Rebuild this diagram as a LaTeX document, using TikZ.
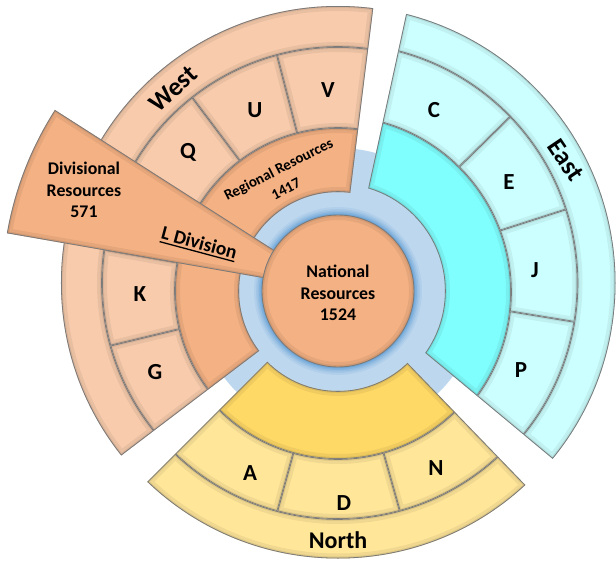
\documentclass[tikz,border=0pt]{standalone}
\usepackage{fontspec}
\setmainfont{Carlito}
\newcommand\thickul[1]{\setbox0\hbox{#1}\rlap{\rule[-3.4pt]{\wd0}{1.3pt}}\box0}
\usetikzlibrary{calc}
\definecolor{orgD}{HTML}{F4B183}
\definecolor{orgL}{HTML}{F8CBAD}
\definecolor{cyD}{HTML}{80FFFF}
\definecolor{cyL}{HTML}{CCFFFF}
\definecolor{yeD}{HTML}{FFD966}
\definecolor{yeL}{HTML}{FFE699}
\definecolor{blueD}{HTML}{BDD7EE}
\definecolor{blueK}{HTML}{5B9BD5}
\definecolor{edgec}{HTML}{7A7A7A}
% #1 colour, #2 point on start edge, #3 start angle, #4 point on end edge, #5 end angle,
% #6 inner centre, #7 inner radius, #8 outer centre, #9 outer radius
\newcommand\piece[9]{%
  \begin{scope}
    \clip (#2) -- ($(#2)+(#3:420)$) arc[start angle=#3,end angle=#5,radius=420]
          -- ($(#4)+(#5:420)$) -- (#4) -- cycle;
    \clip (#6) ++(0:#7) arc[start angle=0,end angle=-360,radius=#7]
          (#8) ++(0:#9) arc[start angle=0,end angle=360,radius=#9];
    \fill[#1] (-400,-400) rectangle (400,400);
    \draw[black,opacity=.06,line width=10] (#2) -- ($(#2)+(#3:420)$) (#4) -- ($(#4)+(#5:420)$)
          (#6) circle[radius=#7] (#8) circle[radius=#9];
    \draw[black,opacity=.07,line width=4] (#2) -- ($(#2)+(#3:420)$) (#4) -- ($(#4)+(#5:420)$)
          (#6) circle[radius=#7] (#8) circle[radius=#9];
    \draw[edgec,line width=1.6] (#2) -- ($(#2)+(#3:420)$) (#4) -- ($(#4)+(#5:420)$)
          (#6) circle[radius=#7] (#8) circle[radius=#9];
  \end{scope}}
\tikzset{
  cell/.style={font=\bfseries\fontsize{23}{27}\selectfont,inner sep=1pt},
  band/.style={font=\bfseries\fontsize{24}{28}\selectfont,inner sep=0pt},
  bandbig/.style={font=\bfseries\fontsize{26}{30}\selectfont,inner sep=0pt},
  info/.style={font=\bfseries\fontsize{17.8}{21.5}\selectfont,align=center,inner sep=0pt},
  reg/.style={font=\bfseries\fontsize{15}{18}\selectfont,inner sep=0pt},
}
\begin{document}
\begin{tikzpicture}[x=1pt,y=1pt]
\useasboundingbox (-338,-269) rectangle (278,291);
\fill[white] (-338,-269) rectangle (278,291);
% blue disk and soft halo round the centre
\fill[blueD] (0,0) circle[radius=143];
\foreach \r/\o in {84/.12,82/.15,80.5/.2,79/.3,77.5/.45}
  \fill[blueK,opacity=\o] (0,0) circle[radius=\r];
% West
\piece{orgD}{0,0}{82.9}{0,0}{217.2}{0,0}{99}{0,0}{163}
\piece{orgL}{0,0}{82.9}{0,0}{104.5}{0,0}{163}{0,8}{236}
\piece{orgL}{0,0}{104.5}{0,0}{127}{0,0}{163}{0,8}{236}
\piece{orgL}{0,0}{127}{0,0}{150}{0,0}{163}{0,8}{236}
\piece{orgL}{0,0}{170}{0,0}{193.5}{0,0}{163}{0,8}{236}
\piece{orgL}{0,0}{193.5}{0,0}{217.2}{0,0}{163}{0,8}{236}
\piece{orgL}{0,0}{82.9}{0,0}{217.2}{0,8}{236}{0,8}{277}
% East
\piece{cyD}{8.1,4}{-39.76}{9.7,8.3}{77.72}{0,0}{107}{-3,-1}{176}
\piece{cyL}{4.8,9.8}{44.5}{9.7,8.3}{77.72}{-3,-1}{176}{0,8}{239.5}
\piece{cyL}{8.2,11}{17.82}{4.8,9.8}{44.5}{-3,-1}{176}{0,8}{239.5}
\piece{cyL}{4.4,7.1}{-9.29}{8.2,11}{17.82}{-3,-1}{176}{0,8}{239.5}
\piece{cyL}{8.1,4}{-39.76}{4.4,7.1}{-9.29}{-3,-1}{176}{0,8}{239.5}
\piece{cyL}{8.1,4}{-39.76}{9.7,8.3}{77.72}{0,8}{239.5}{0,8}{277.5}
% North
\piece{yeD}{0,0}{225}{0,0}{314}{0,0}{100}{0,0}{168}
\piece{yeL}{0,0}{225}{0,0}{254.6}{0,0}{168}{0,8}{236}
\piece{yeL}{0,0}{254.6}{0,0}{285.7}{0,0}{168}{0,8}{236}
\piece{yeL}{0,0}{285.7}{0,0}{314}{0,0}{168}{0,8}{236}
\piece{yeL}{0,0}{225}{0,0}{314}{0,8}{236}{0,8}{275.5}
% L Division wedge
\piece{orgD}{0,0}{147.4}{0,0}{170.1}{0,0}{70}{0,0}{336}
% national circle
\begin{scope}
  \clip (0,0) circle[radius=76];
  \fill[orgD] (0,0) circle[radius=76];
  \draw[black,opacity=.06,line width=10] (0,0) circle[radius=76];
  \draw[black,opacity=.07,line width=4] (0,0) circle[radius=76];
\end{scope}
\draw[edgec,line width=0.9] (0,0) circle[radius=76];
% texts
\node[info] (nat) at (0,-2) {National\\Resources\\1524};
\node[info] (div) at (-254,101) {Divisional\\Resources\\571};
\node[font=\bfseries\fontsize{19.5}{23}\selectfont,rotate=-15,inner sep=0pt] (ldiv) at (-139,47) {\thickul{L Division}};
\node[reg,rotate=27] (regt) at (-59,121) {Regional Resources};
\node[reg,rotate=27] (regn) at (-52,102) {1417};
\node[bandbig,rotate=42] (west) at (-165,202) {West};
\node[bandbig,rotate=-56] (east) at (228,131) {East};
\node[band] (north) at (0,-249) {North};
\node[cell] (q) at (-150,139) {Q};
\node[cell] (u) at (-83,181) {U};
\node[cell] (v) at (-10,201) {V};
\node[cell] (k) at (-198,-3) {K};
\node[cell] (g) at (-183,-81) {G};
\node[cell] (c) at (96,181) {C};
\node[cell] (e) at (171,109) {E};
\node[cell] (j) at (197,21) {J};
\node[cell] (p) at (183,-79) {P};
\node[cell] (a) at (-88,-182) {A};
\node[cell] (d) at (6,-212) {D};
\node[cell] (n) at (98,-177) {N};
\end{tikzpicture}
\end{document}
